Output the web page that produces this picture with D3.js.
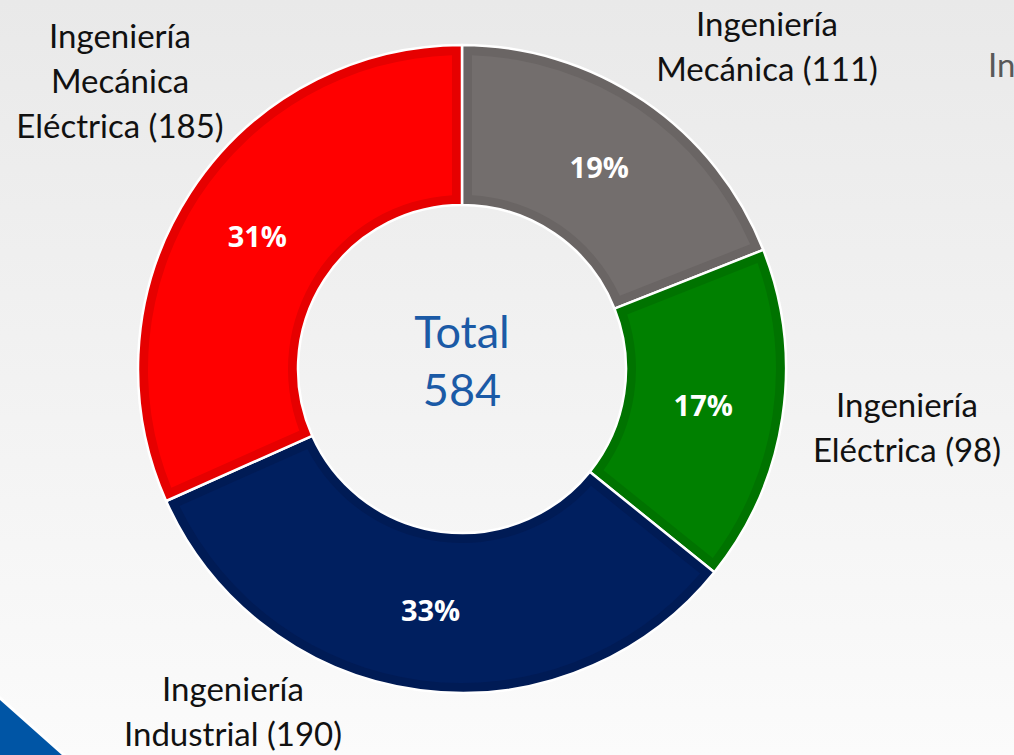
<!DOCTYPE html>
<html>
<head>
<meta charset="utf-8">
<script src="https://cdn.jsdelivr.net/npm/d3@7"></script>
<style>
  html, body { margin: 0; padding: 0; overflow: hidden; }
  svg { display: block; }
</style>
</head>
<body>
<svg id="chart" width="1014" height="755"></svg>
<script>
// data
var categories = ["Ingeniería Mecánica", "Ingeniería Eléctrica", "Ingeniería Industrial", "Ingeniería Mecánica Eléctrica"];
var values = [111, 98, 190, 185];
var pctLabels = ["19%", "17%", "33%", "31%"];
var fills = ["#736e6d", "#008000", "#001f5f", "#ff0000"];
var borders = ["#6a6564", "#007300", "#001b55", "#e60000"];
var labelLines = [
    ["Ingeniería", "Mecánica (111)"],
    ["Ingeniería", "Eléctrica (98)"],
    ["Ingeniería", "Industrial (190)"],
    ["Ingeniería", "Mecánica", "Eléctrica (185)"]
];
var labelPos = [[767, 36], [907, 417], [233, 701], [120, 48]];

var W = 1014, H = 755;
var cx = 462, cy = 369, rOuter = 324, rInner = 164;
var total = d3.sum(values);
var labelFont = "'Lato', 'Open Sans', sans-serif";

var svg = d3.select("#chart");

// background
var defs = svg.append("defs");
var grad = defs.append("linearGradient").attr("id", "bg")
    .attr("x1", 0).attr("y1", 0).attr("x2", 0).attr("y2", 1);
grad.append("stop").attr("offset", "0%").attr("stop-color", "#e9e9e9");
grad.append("stop").attr("offset", "100%").attr("stop-color", "#fbfbfb");
svg.append("rect").attr("width", W).attr("height", H).attr("fill", "url(#bg)");

// corner shape
svg.append("path")
    .attr("d", "M-10,689 L72,762 L-10,762 Z")
    .attr("fill", "#0055a5")
    .attr("stroke", "#ffffff")
    .attr("stroke-width", 3);

// label of the next slide element, cut at the right edge as in the original
svg.append("text")
    .attr("x", 988).attr("y", 77)
    .style("font-family", labelFont).style("font-size", "33px")
    .style("fill", "#595959")
    .text("In");

var pie = d3.pie().sort(null).value(function(d){ return d; });
var arcs = pie(values);

var arcOuter = d3.arc().innerRadius(rInner).outerRadius(rOuter);
var arcInset = d3.arc().innerRadius(rInner + 10).outerRadius(rOuter - 10)
    .padRadius(200).padAngle(20 / 200);
var arcLabel = d3.arc().innerRadius((rInner + rOuter) / 2).outerRadius((rInner + rOuter) / 2);

var g = svg.append("g").attr("transform", "translate(" + cx + "," + cy + ")");

var slice = g.selectAll(".slice")
    .data(arcs)
    .enter()
    .append("g")
    .attr("class", "slice");

slice.append("path")
    .attr("d", arcOuter)
    .attr("fill", function(d, i){ return borders[i]; })
    .attr("stroke", "#ffffff")
    .attr("stroke-width", 2.5)
    .attr("stroke-linejoin", "round");

slice.append("path")
    .attr("d", arcInset)
    .attr("fill", function(d, i){ return fills[i]; });

slice.append("text")
    .attr("transform", function(d){ return "translate(" + arcLabel.centroid(d) + ")"; })
    .attr("text-anchor", "middle")
    .attr("dy", "0.36em")
    .style("font-family", "'Open Sans', sans-serif")
    .style("font-weight", "bold")
    .style("font-size", "29px")
    .style("fill", "#ffffff")
    .text(function(d, i){ return pctLabels[i]; });

// center total
var center = g.append("text")
    .attr("text-anchor", "middle")
    .style("font-family", labelFont)
    .style("font-size", "45px")
    .style("fill", "#1b5aa6");
center.append("tspan").attr("x", 0).attr("y", -21).text("Total");
center.append("tspan").attr("x", 0).attr("y", 37).text(total);

// outside category labels
svg.selectAll(".cat")
    .data(labelLines)
    .enter()
    .append("text")
    .attr("class", "cat")
    .attr("text-anchor", "middle")
    .style("font-family", labelFont)
    .style("font-size", "33px")
    .style("fill", "#111111")
    .each(function(lines, i){
        var t = d3.select(this);
        lines.forEach(function(s, k){
            t.append("tspan")
                .attr("x", labelPos[i][0])
                .attr("y", labelPos[i][1] + k * 45)
                .text(s);
        });
    });
</script>
</body>
</html>
